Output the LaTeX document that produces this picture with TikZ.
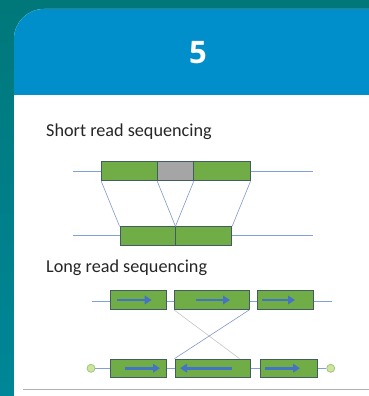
\documentclass[tikz,border=0pt]{standalone}
\usepackage{fontspec}
\setmainfont{Carlito}
\newfontfamily\numfont{Open Sans}
\usetikzlibrary{arrows.meta,calc}
\definecolor{bgtop}{RGB}{0,120,122}
\definecolor{bgbot}{RGB}{0,134,152}
\definecolor{hdrblue}{RGB}{0,143,202}
\definecolor{boxgreen}{RGB}{112,173,71}
\definecolor{boxedge}{RGB}{66,92,96}
\definecolor{boxgray}{RGB}{165,165,165}
\definecolor{lineblue}{RGB}{130,160,218}
\definecolor{arrowblue}{RGB}{68,114,196}
\definecolor{endfill}{RGB}{205,228,160}
\definecolor{enddraw}{RGB}{160,200,120}
\definecolor{sepgray}{RGB}{178,178,178}
\tikzset{
  x=1pt,y=1pt,
  gbox/.style={rectangle,draw=boxedge,fill=boxgreen,line width=0.9pt,inner sep=0pt,minimum height=#1},
  gbox/.default=19pt,
  track/.style={draw=lineblue,line width=1pt},
  link/.style={draw=lineblue!80!gray,line width=0.6pt},
  dirarrow/.style={draw=arrowblue,line width=2.7pt,-{Triangle[length=7pt,width=8.5pt]}},
  endcap/.style={circle,draw=enddraw,fill=endfill,line width=0.8pt,minimum size=8pt,inner sep=0pt},
  label/.style={anchor=base west,inner sep=0pt,font=\fontsize{18.2}{20}\selectfont,text=black!85}
}
\begin{document}
\begin{tikzpicture}
\useasboundingbox (0,0) rectangle (369,-396);
\clip (0,0) rectangle (369,-396);
% background
\shade[top color=bgtop,bottom color=bgbot] (0,0) rectangle (369,-396);
% card
\fill[white,rounded corners=30pt] (14,-9) rectangle (400,-430);
\begin{scope}
\clip[rounded corners=30pt] (14,-9) rectangle (400,-430);
\fill[hdrblue] (14,-9) rectangle (400,-95);
\end{scope}
\node[text=white,font=\numfont\bfseries\fontsize{31}{33}\selectfont] (num) at (198,-53) {5};

% ---------- Short read ----------
\node[label] (t1) at (46,-136.5) {Short read sequencing};
\coordinate (sl) at (73,-171.3);
\coordinate (sr) at (313,-171.3);
\draw[track] (sl) -- (sr);
\node[gbox,minimum width=56pt] (s1) at (129.7,-171.3) {};
\node[gbox,fill=boxgray,minimum width=35.6pt] (sg) at (175.5,-171.3) {};
\node[gbox,minimum width=56.7pt] (s3) at (221.7,-171.3) {};
\coordinate (bl) at (73,-235.9);
\coordinate (br) at (313,-235.9);
\draw[track] (bl) -- (br);
\node[gbox=18.3pt,minimum width=55pt] (b1) at (147.5,-235.9) {};
\node[gbox=18.3pt,minimum width=56.7pt] (b2) at (203.35,-235.9) {};
\draw[link] (s1.south west) -- (b1.north west);
\draw[link] (sg.south west) -- (b1.north east);
\draw[link] (sg.south east) -- (b1.north east);
\draw[link] (s3.south east) -- (b2.north east);

% ---------- Long read ----------
\node[label] (t2) at (46,-272.5) {Long read sequencing};
\coordinate (tl) at (91.7,-301);
\coordinate (tr) at (331.7,-301);
\draw[track] (tl) -- (tr);
\node[gbox=18.6pt,minimum width=56.7pt] (A) at (138.3,-300) {};
\node[gbox=18.6pt,minimum width=74.7pt] (B) at (211.7,-300) {};
\node[gbox=18.6pt,minimum width=56pt] (C) at (285.3,-300) {};
\node[endcap] (e1) at (91,-368.3) {};
\node[endcap] (e2) at (330.7,-368.3) {};
\draw[track] (e1) -- (e2);
\node[gbox=18.3pt,minimum width=56pt] (D) at (138.7,-368.2) {};
\node[gbox=18.3pt,minimum width=75pt] (E) at (212.5,-368.2) {};
\node[gbox=18.3pt,minimum width=56.6pt] (F) at (289,-368.2) {};
% crossing links
\draw[link,draw=gray!45] (B.south west) -- ([xshift=-11pt]E.north east);
\draw[link] (B.south east) -- (E.north west);
% direction arrows
\draw[dirarrow] ([xshift=-21.6pt]A.center) -- ([xshift=13.4pt]A.center);
\draw[dirarrow] ([xshift=-16pt]B.center) -- ([xshift=18.3pt]B.center);
\draw[dirarrow] ([xshift=-23pt]C.center) -- ([xshift=9.7pt]C.center);
\draw[dirarrow] ([xshift=-13.7pt]D.center) -- ([xshift=21.3pt]D.center);
\draw[dirarrow] ([xshift=19.5pt]E.center) -- ([xshift=-32.5pt]E.center);
\draw[dirarrow] ([xshift=-24pt]F.center) -- ([xshift=11pt]F.center);

% separator
\coordinate (p1) at (23,-389.3);
\coordinate (p2) at (369,-389.3);
\draw[sepgray,line width=1pt] (p1) -- (p2);
\end{tikzpicture}
\end{document}
